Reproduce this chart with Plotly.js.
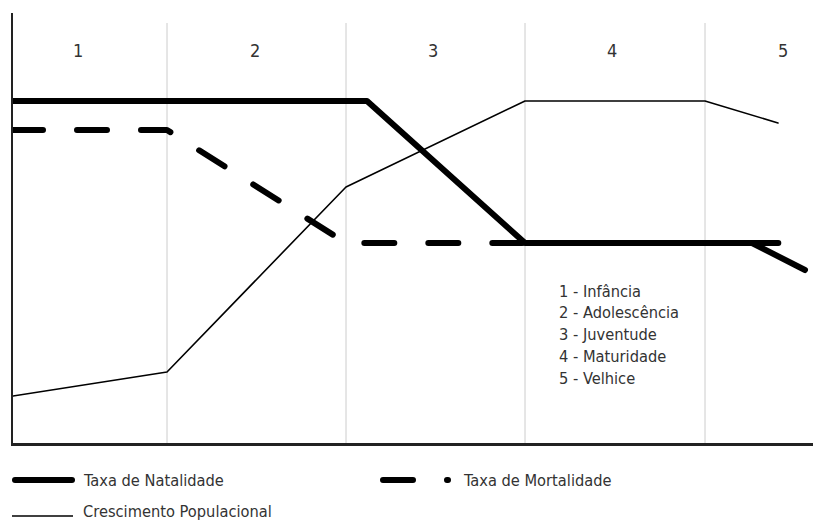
<!DOCTYPE html>
<html>
<head>
<meta charset="utf-8">
<script src="https://cdn.plot.ly/plotly-3.0.1.min.js"></script>
<style>
html,body{margin:0;padding:0;background:#fff;}
#chart{width:813px;height:523px;}
.scatterlayer .js-line, .shapelayer path.roundcap {stroke-linecap:round !important; stroke-linejoin:round !important;}
</style>
</head>
<body>
<div id="chart"></div>
<script>
// Series (x: time units, y: level units)
const natalidadeX = [0, 354, 512, 739, 792];
const natalidadeY = [342, 342, 200, 200, 173];
const mortalidadeX = [0, 154, 333, 767];
const mortalidadeY = [313, 313, 200, 200];
const crescimentoX = [0, 154, 333, 512, 692, 765];
const crescimentoY = [47, 71, 256, 342, 342, 320];

// Stage boundaries and labels
const stageBoundaries = [154, 333, 512, 692];
const stageLabelX = [65, 242, 420, 599, 770];
const stageLabels = ["1", "2", "3", "4", "5"];
const stageNames = ["1 - Infância", "2 - Adolescência", "3 - Juventude", "4 - Maturidade", "5 - Velhice"];
const seriesNames = ["Taxa de Natalidade", "Taxa de Mortalidade", "Crescimento Populacional"];

const FONT = "'DejaVu Sans Condensed', 'Liberation Sans Narrow', sans-serif";
const TXT = "#333333";
const W = 813, H = 523, ML = 13, MR = 0, MT = 13, MB = 80;
const PW = W - ML - MR, PH = H - MT - MB;
const px = x => (x - ML) / PW;
const py = y => (H - MB - y) / PH;
const DASH = "30px,34px";

const traces = [
  {x: natalidadeX, y: natalidadeY, mode: "lines", name: seriesNames[0],
   line: {color: "#000", width: 6}, hoverinfo: "skip"},
  {x: mortalidadeX, y: mortalidadeY, mode: "lines", name: seriesNames[1],
   line: {color: "#000", width: 6, dash: DASH}, hoverinfo: "skip"},
  {x: crescimentoX, y: crescimentoY, mode: "lines", name: seriesNames[2],
   line: {color: "#000", width: 1.6}, hoverinfo: "skip"}
];

const shapes = stageBoundaries.map(b => ({
  type: "line", xref: "x", yref: "paper", x0: b, x1: b, y0: 0, y1: py(23),
  line: {color: "#cccccc", width: 1}, layer: "below"
}));
// legend symbols
shapes.push({type: "line", xref: "paper", yref: "paper", x0: px(15), x1: px(72), y0: py(480), y1: py(480),
  line: {color: "#000", width: 6}});
shapes.push({type: "line", xref: "paper", yref: "paper", x0: px(383), x1: px(448), y0: py(480), y1: py(480),
  line: {color: "#000", width: 6, dash: DASH}});
shapes.push({type: "line", xref: "paper", yref: "paper", x0: px(12), x1: px(73), y0: py(516), y1: py(516),
  line: {color: "#000", width: 1.6}});

const annotations = [];
stageLabels.forEach((t, i) => annotations.push({
  text: t, x: stageLabelX[i], xref: "x", y: py(51), yref: "paper",
  showarrow: false, xanchor: "center", yanchor: "middle",
  font: {family: FONT, size: 18, color: TXT}
}));
stageNames.forEach((t, i) => annotations.push({
  text: t, x: px(557), xref: "paper", y: py(291 + i * 21.8), yref: "paper",
  showarrow: false, xanchor: "left", yanchor: "middle",
  font: {family: FONT, size: 16.3, color: TXT}
}));
const legPos = [[81, 480], [461, 480], [81, 511.5]];
seriesNames.forEach((t, i) => annotations.push({
  text: t, x: px(legPos[i][0]), xref: "paper", y: py(legPos[i][1]), yref: "paper",
  showarrow: false, xanchor: "left", yanchor: "middle",
  font: {family: FONT, size: 16.3, color: TXT}
}));

const layout = {
  width: W, height: H,
  margin: {l: ML, r: MR, t: MT, b: MB, pad: 0},
  paper_bgcolor: "#fff", plot_bgcolor: "#fff",
  showlegend: false,
  xaxis: {range: [0, PW], showgrid: false, zeroline: false, showticklabels: false, ticks: "",
          showline: true, linecolor: "#222", linewidth: 2.5, fixedrange: true},
  yaxis: {range: [0, PH], showgrid: false, zeroline: false, showticklabels: false, ticks: "",
          showline: true, linecolor: "#222", linewidth: 2.5, fixedrange: true},
  shapes: shapes,
  annotations: annotations,
  font: {family: FONT, color: TXT}
};

Plotly.newPlot("chart", traces, layout, {staticPlot: true, displayModeBar: false}).then(() => {
  document.querySelectorAll(".shapelayer path").forEach(p => {
    const w = parseFloat(p.style.strokeWidth || p.getAttribute("stroke-width") || 0);
    if (w >= 5) p.classList.add("roundcap");
  });
});
</script>
</body>
</html>
